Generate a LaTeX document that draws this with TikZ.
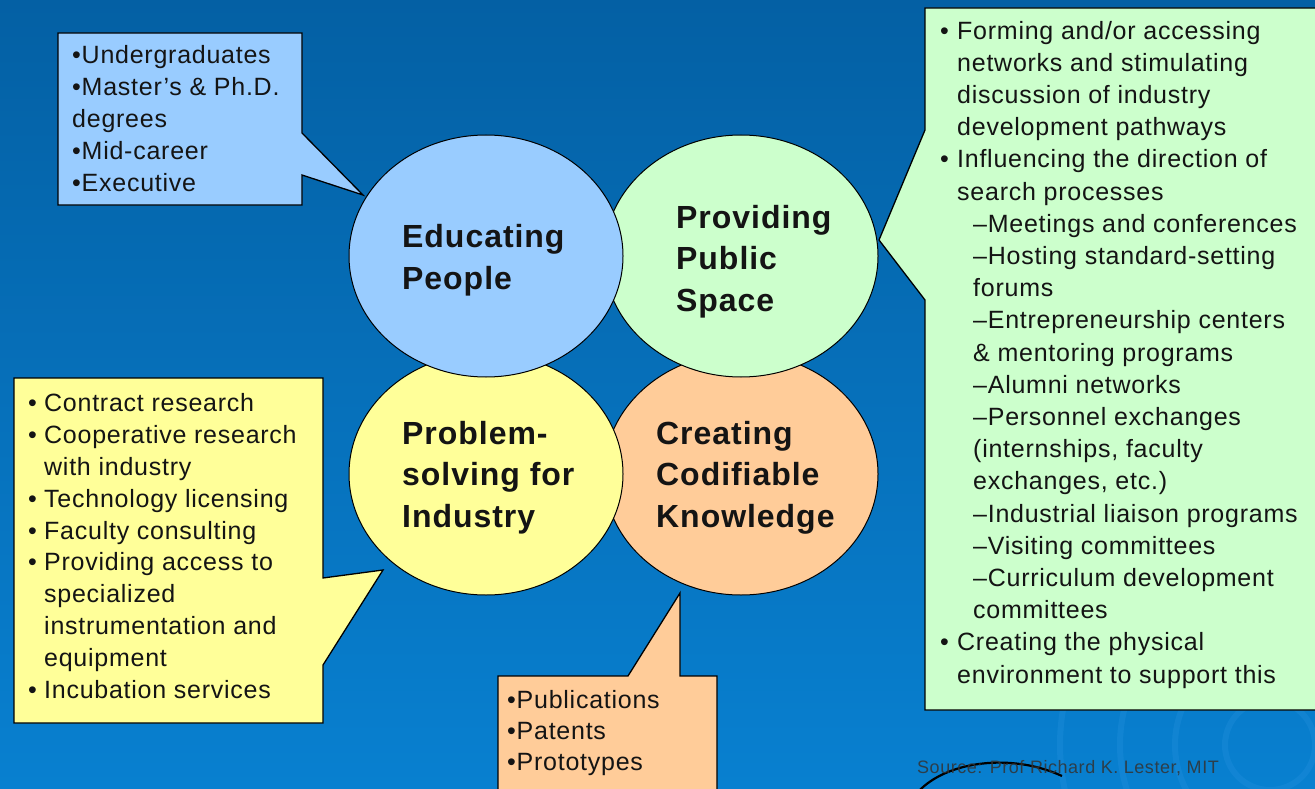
\documentclass[tikz,border=0pt]{standalone}
\usepackage{fontspec}
\setmainfont{Liberation Sans}[LetterSpace=3]
\usetikzlibrary{shapes.geometric}
\definecolor{bgtop}{RGB}{4,96,164}
\definecolor{bgbot}{RGB}{8,128,208}
\definecolor{swirl}{RGB}{60,160,235}
\definecolor{cblue}{RGB}{153,204,255}
\definecolor{cgreen}{RGB}{204,255,204}
\definecolor{cyellow}{RGB}{255,255,153}
\definecolor{corange}{RGB}{255,204,153}
\definecolor{ink}{RGB}{20,20,20}
\tikzset{
  bubble/.style={ellipse, draw=black, line width=1pt, minimum width=274pt, minimum height=242pt, inner sep=0pt},
  callout/.style={draw=black, line width=1.3pt, line join=miter},
  bublabel/.style={font=\fontsize{32}{41.5}\selectfont\bfseries, text=ink, align=left, inner sep=0pt, anchor=base west},
  boxtext/.style={font=\fontsize{25}{32.2}\selectfont, text=ink, align=left, inner sep=0pt, anchor=base west},
  swirlline/.style={draw=swirl, line width=6pt, opacity=0.18}
}
\begin{document}
\begin{tikzpicture}[x=1pt,y=-1pt]
\useasboundingbox (0,0) rectangle (1315,789);
\shade[top color=bgtop, bottom color=bgbot] (0,0) rectangle (1315,789);
% faint background swirls
\begin{scope}
\clip (0,0) rectangle (1315,789);
\foreach \r in {45,95,150,210} \draw[swirlline] (1270,745) circle (\r);
\draw[swirlline] (520,800) arc[start angle=180, end angle=95, x radius=160, y radius=110];
\draw[swirlline] (590,800) arc[start angle=180, end angle=100, x radius=140, y radius=70];
\end{scope}

% callout pointer tips
\coordinate (tipB) at (363,195);
\coordinate (tipG) at (879,240);
\coordinate (tipY) at (383,570);
\coordinate (tipO) at (680,593);

\draw[callout, fill=cgreen] (1325,8) -- (925,8) -- (925,130) -- (tipG) -- (925,300) -- (925,710) -- (1325,710);

% bubbles
\node[bubble, fill=corange] (know) at (741,474) {};
\node[bubble, fill=cyellow] (prob) at (486,474) {};
\node[bubble, fill=cgreen] (space) at (741,256) {};
\node[bubble, fill=cblue] (edu) at (486,256) {};

\draw[callout, fill=cblue] (58,33) -- (302,33) -- (302,133) -- (tipB) -- (302,175) -- (302,205) -- (58,205) -- cycle;
\draw[callout, fill=cyellow] (14,378) -- (323,378) -- (323,578) -- (tipY) -- (323,665) -- (323,723) -- (14,723) -- cycle;
\draw[callout, fill=corange] (498,800) -- (498,676) -- (628,676) -- (tipO) -- (680,676) -- (717,676) -- (717,800);

% bubble labels (anchored at the baseline of the last line)
\node[bublabel] (edutxt) at (402,289) {Educating\\People};
\node[bublabel] (spacetxt) at (676,311) {Providing\\Public\\Space};
\node[bublabel] (probtxt) at (402,527) {Problem-\\solving for\\Industry};
\node[bublabel] (knowtxt) at (656,527) {Creating\\Codifiable\\Knowledge};

\node[boxtext] (blist) at (72,192) {•Undergraduates\\•Master's \& Ph.D.\\degrees\\•Mid-career\\•Executive};

\node[boxtext, font=\fontsize{25}{31.8}\selectfont] (ylist) at (28,698) {%
\makebox[16pt][l]{•}Contract research\\
\makebox[16pt][l]{•}Cooperative research\\
\hspace*{16pt}with industry\\
\makebox[16pt][l]{•}Technology licensing\\
\makebox[16pt][l]{•}Faculty consulting\\
\makebox[16pt][l]{•}Providing access to\\
\hspace*{16pt}specialized\\
\hspace*{16pt}instrumentation and\\
\hspace*{16pt}equipment\\
\makebox[16pt][l]{•}Incubation services};

\node[boxtext, font=\fontsize{25}{31}\selectfont] (olist) at (507,770) {•Publications\\•Patents\\•Prototypes};

\node[boxtext] (glist) at (940,683) {%
\makebox[17pt][l]{•}Forming and/or accessing\\
\hspace*{17pt}networks and stimulating\\
\hspace*{17pt}discussion of industry\\
\hspace*{17pt}development pathways\\
\makebox[17pt][l]{•}Influencing the direction of\\
\hspace*{17pt}search processes\\
\hspace*{33pt}–Meetings and conferences\\
\hspace*{33pt}–Hosting standard-setting\\
\hspace*{33pt}forums\\
\hspace*{33pt}–Entrepreneurship centers\\
\hspace*{33pt}\& mentoring programs\\
\hspace*{33pt}–Alumni networks\\
\hspace*{33pt}–Personnel exchanges\\
\hspace*{33pt}(internships, faculty\\
\hspace*{33pt}exchanges, etc.)\\
\hspace*{33pt}–Industrial liaison programs\\
\hspace*{33pt}–Visiting committees\\
\hspace*{33pt}–Curriculum development\\
\hspace*{33pt}committees\\
\makebox[17pt][l]{•}Creating the physical\\
\hspace*{17pt}environment to support this};

% source note
\draw[line width=2.2pt, black] (918,792) .. controls (945,762) and (1010,752) .. (1062,776);
\node[anchor=base west, inner sep=0pt, font=\fontsize{18}{18}\selectfont, text=black!80, opacity=0.85] (src) at (917,773) {Source: Prof Richard K. Lester, MIT};
\end{tikzpicture}
\end{document}
